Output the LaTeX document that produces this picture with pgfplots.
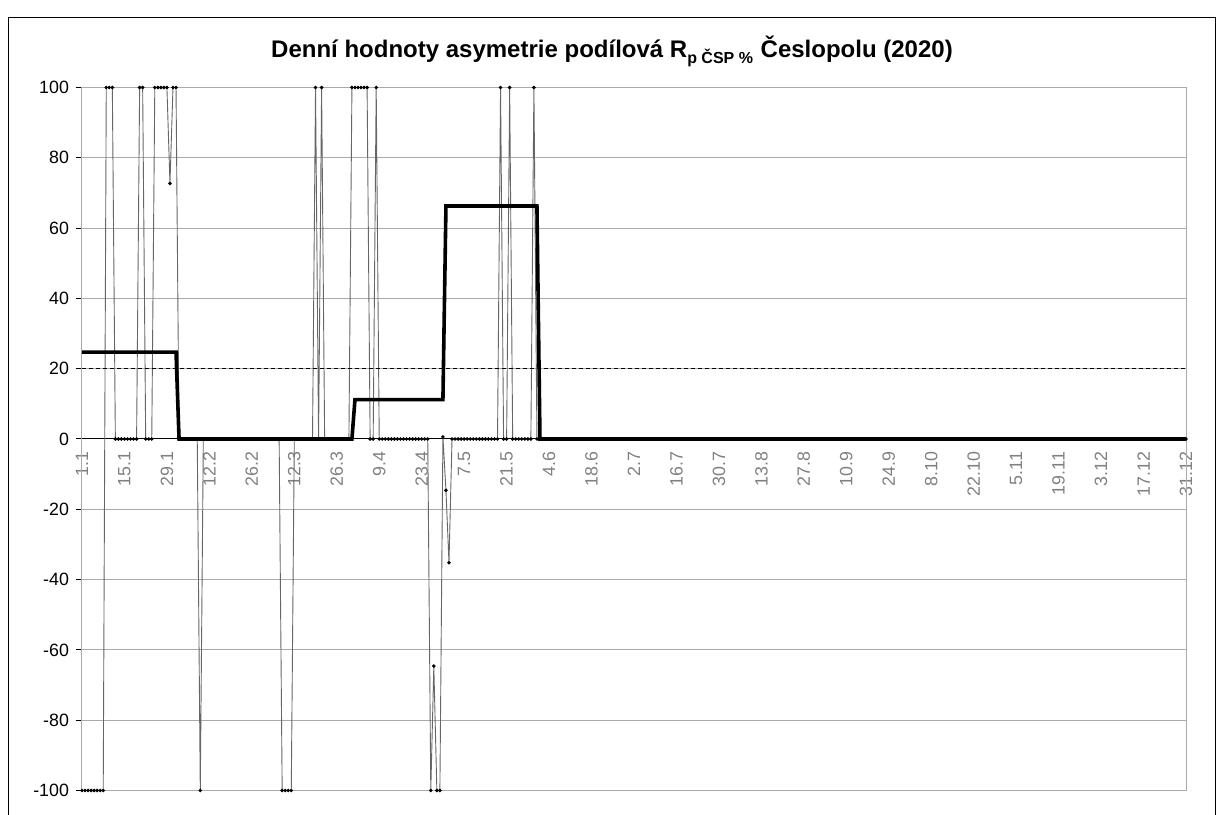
\documentclass[border=0pt]{standalone}
\usepackage{fontspec}
\setmainfont{Liberation Sans}
\usepackage{pgfplots}
\pgfplotsset{compat=1.18}
\definecolor{tickgray}{RGB}{128,128,128}
\definecolor{gridgray}{RGB}{170,170,170}
\begin{document}
\begin{tikzpicture}
\useasboundingbox (0,0) rectangle (611.5pt,407.5pt);
\draw[line width=0.5pt] (4pt,-5pt) -- (4pt,398.5pt) -- (607.5pt,398.5pt) -- (607.5pt,-5pt);
\node[font=\bfseries\fontsize{12}{14}\selectfont] at (306pt,382pt) {Denní hodnoty asymetrie podílová R\textsubscript{p ČSP \%} Česlopolu (2020)};
\begin{axis}[
  at={(41pt,12.25pt)}, anchor=south west,
  scale only axis, width=552pt, height=351.5pt,
  xmin=0, xmax=364, ymin=-100, ymax=100,
  axis x line=middle, axis y line=left,
  axis line style={-, line width=0.5pt},
  hide obscured x ticks=false, hide obscured y ticks=false,
  clip=false,
  ytick={-100,-80,...,100},
  xtick={0,14,...,364},
  xticklabels={1.1,15.1,29.1,12.2,26.2,12.3,26.3,9.4,23.4,7.5,21.5,4.6,18.6,2.7,16.7,30.7,13.8,27.8,10.9,24.9,8.10,22.10,5.11,19.11,3.12,17.12,31.12},
  xticklabel style={rotate=90, anchor=east, text=tickgray, font=\fontsize{8.9}{10}\selectfont},
  yticklabel style={font=\fontsize{8.9}{10}\selectfont},
  /pgf/number format/assume math mode=true,
  ymajorgrids, grid style={gridgray, line width=0.5pt},
  tick align=outside, major tick length=3pt,
  x tick style={draw=none},
  y tick style={black, line width=0.5pt},
]
\draw[gridgray, line width=0.5pt] (rel axis cs:0,0) rectangle (rel axis cs:1,1);
% daily values (thin)
\addplot[black!60, line width=0.45pt, mark=*, mark size=0.65pt, mark options={black, draw=black, fill=black}] coordinates {
(0,-100) (1,-100) (2,-100) (3,-100) (4,-100) (5,-100) (6,-100) (7,-100) (8,100) (9,100)
(10,100) (11,0) (12,0) (13,0) (14,0) (15,0) (16,0) (17,0) (18,0) (19,100)
(20,100) (21,0) (22,0) (23,0) (24,100) (25,100) (26,100) (27,100) (28,100) (29,72.7)
(30,100) (31,100) (32,0) (33,0) (34,0) (35,0) (36,0) (37,0) (38,0) (39,-100)
(40,0) (41,0) (42,0) (43,0) (44,0) (45,0) (46,0) (47,0) (48,0) (49,0)
(50,0) (51,0) (52,0) (53,0) (54,0) (55,0) (56,0) (57,0) (58,0) (59,0)
(60,0) (61,0) (62,0) (63,0) (64,0) (65,0) (66,-100) (67,-100) (68,-100) (69,-100)
(70,0) (71,0) (72,0) (73,0) (74,0) (75,0) (76,0) (77,100) (78,0) (79,100)
(80,0) (81,0) (82,0) (83,0) (84,0) (85,0) (86,0) (87,0) (88,0) (89,100)
(90,100) (91,100) (92,100) (93,100) (94,100) (95,0) (96,0) (97,100) (98,0) (99,0)
(100,0) (101,0) (102,0) (103,0) (104,0) (105,0) (106,0) (107,0) (108,0) (109,0)
(110,0) (111,0) (112,0) (113,0) (114,0) (115,-100) (116,-64.6) (117,-100) (118,-100) (119,0.6)
(120,-14.6) (121,-35.2) (122,0) (123,0) (124,0) (125,0) (126,0) (127,0) (128,0) (129,0)
(130,0) (131,0) (132,0) (133,0) (134,0) (135,0) (136,0) (137,0) (138,100) (139,0)
(140,0) (141,100) (142,0) (143,0) (144,0) (145,0) (146,0) (147,0) (148,0) (149,100)
(150,0) (151,0) (152,0) (153,0) (154,0) (155,0) (156,0) (157,0) (158,0) (159,0)
(160,0) (161,0) (162,0) (163,0) (164,0) (165,0) (166,0) (167,0) (168,0) (169,0)
(170,0) (171,0) (172,0) (173,0) (174,0) (175,0) (176,0) (177,0) (178,0) (179,0)
(180,0) (181,0) (182,0) (183,0) (184,0) (185,0) (186,0) (187,0) (188,0) (189,0)
(190,0) (191,0) (192,0) (193,0) (194,0) (195,0) (196,0) (197,0) (198,0) (199,0)
(200,0) (201,0) (202,0) (203,0) (204,0) (205,0) (206,0) (207,0) (208,0) (209,0)
(210,0) (211,0) (212,0) (213,0) (214,0) (215,0) (216,0) (217,0) (218,0) (219,0)
(220,0) (221,0) (222,0) (223,0) (224,0) (225,0) (226,0) (227,0) (228,0) (229,0)
(230,0) (231,0) (232,0) (233,0) (234,0) (235,0) (236,0) (237,0) (238,0) (239,0)
(240,0) (241,0) (242,0) (243,0) (244,0) (245,0) (246,0) (247,0) (248,0) (249,0)
(250,0) (251,0) (252,0) (253,0) (254,0) (255,0) (256,0) (257,0) (258,0) (259,0)
(260,0) (261,0) (262,0) (263,0) (264,0) (265,0) (266,0) (267,0) (268,0) (269,0)
(270,0) (271,0) (272,0) (273,0) (274,0) (275,0) (276,0) (277,0) (278,0) (279,0)
(280,0) (281,0) (282,0) (283,0) (284,0) (285,0) (286,0) (287,0) (288,0) (289,0)
(290,0) (291,0) (292,0) (293,0) (294,0) (295,0) (296,0) (297,0) (298,0) (299,0)
(300,0) (301,0) (302,0) (303,0) (304,0) (305,0) (306,0) (307,0) (308,0) (309,0)
(310,0) (311,0) (312,0) (313,0) (314,0) (315,0) (316,0) (317,0) (318,0) (319,0)
(320,0) (321,0) (322,0) (323,0) (324,0) (325,0) (326,0) (327,0) (328,0) (329,0)
(330,0) (331,0) (332,0) (333,0) (334,0) (335,0) (336,0) (337,0) (338,0) (339,0)
(340,0) (341,0) (342,0) (343,0) (344,0) (345,0) (346,0) (347,0) (348,0) (349,0)
(350,0) (351,0) (352,0) (353,0) (354,0) (355,0) (356,0) (357,0) (358,0) (359,0)
(360,0) (361,0) (362,0) (363,0) (364,0)
};
% limit 20 (dashed)
\addplot[black, line width=0.5pt, dash pattern=on 2pt off 1.5pt] coordinates {(0,20) (364,20)};
% monthly values (bold)
\addplot[black, line width=1.8pt] coordinates {
(0,24.7) (31,24.7) (32,0) (89,0) (90,11.2) (119,11.2) (120,66.3) (150,66.3) (151,0) (364,0)
};
\end{axis}
\end{tikzpicture}
\end{document}
